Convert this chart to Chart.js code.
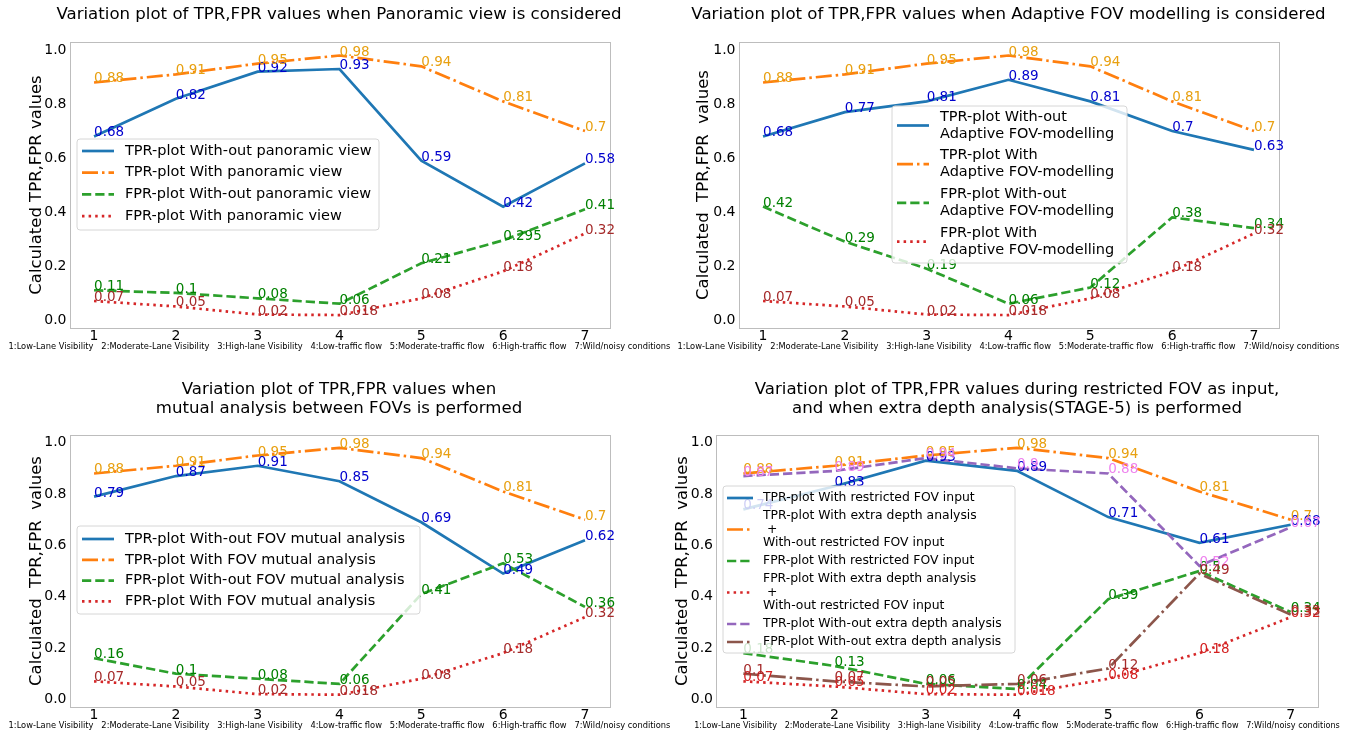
<!DOCTYPE html>
<html>
<head>
<meta charset="utf-8">
<script src="https://cdn.jsdelivr.net/npm/chart.js@4.4.0/dist/chart.umd.min.js"></script>
<style>
html, body { margin: 0; padding: 0; background: #fff; overflow: hidden; width: 1357px; height: 733px; }
canvas { position: absolute; }
</style>
</head>
<body>
<canvas id="c1" style="left:0px;top:0px" width="678" height="366"></canvas>
<canvas id="c2" style="left:660px;top:0px" width="697" height="366"></canvas>
<canvas id="c3" style="left:0px;top:366px" width="678" height="367"></canvas>
<canvas id="c4" style="left:660px;top:366px" width="714" height="367"></canvas>
<script>
var xValues = [1, 2, 3, 4, 5, 6, 7];
var yTicks = [0, 0.2, 0.4, 0.6, 0.8, 1.0];
var caption = '1:Low-Lane Visibility   2:Moderate-Lane Visibility   3:High-lane Visibility   4:Low-traffic flow   5:Moderate-traffic flow   6:High-traffic flow   7:Wild/noisy conditions';

// panel 1 - panoramic view
var panoTprWithout = [0.68, 0.82, 0.92, 0.93, 0.59, 0.42, 0.58];
var panoTprWith = [0.88, 0.91, 0.95, 0.98, 0.94, 0.81, 0.7];
var panoFprWithout = [0.11, 0.1, 0.08, 0.06, 0.21, 0.295, 0.41];
var panoFprWith = [0.07, 0.05, 0.02, 0.018, 0.08, 0.18, 0.32];

// panel 2 - adaptive FOV modelling
var adaTprWithout = [0.68, 0.77, 0.81, 0.89, 0.81, 0.7, 0.63];
var adaTprWith = [0.88, 0.91, 0.95, 0.98, 0.94, 0.81, 0.7];
var adaFprWithout = [0.42, 0.29, 0.19, 0.06, 0.12, 0.38, 0.34];
var adaFprWith = [0.07, 0.05, 0.02, 0.018, 0.08, 0.18, 0.32];

// panel 3 - mutual analysis between FOVs
var mutTprWithout = [0.79, 0.87, 0.91, 0.85, 0.69, 0.49, 0.62];
var mutTprWith = [0.88, 0.91, 0.95, 0.98, 0.94, 0.81, 0.7];
var mutFprWithout = [0.16, 0.1, 0.08, 0.06, 0.41, 0.53, 0.36];
var mutFprWith = [0.07, 0.05, 0.02, 0.018, 0.08, 0.18, 0.32];

// panel 4 - restricted FOV / extra depth analysis
var resTprRestricted = [0.74, 0.83, 0.93, 0.89, 0.71, 0.61, 0.68];
var resTprExtra = [0.88, 0.91, 0.95, 0.98, 0.94, 0.81, 0.7];
var resFprRestricted = [0.18, 0.13, 0.06, 0.04, 0.39, 0.5, 0.34];
var resFprExtra = [0.07, 0.05, 0.02, 0.018, 0.08, 0.18, 0.32];
var resTprNoExtra = [0.87, 0.89, 0.94, 0.9, 0.88, 0.52, 0.67];
var resFprNoExtra = [0.1, 0.07, 0.05, 0.06, 0.12, 0.49, 0.33];

var BLUE = '#1f77b4', ORANGE = '#ff7f0e', GREEN = '#2ca02c', RED = '#d62728', PURPLE = '#9467bd', BROWN = '#8c564b';
var SOLID = [], DASHDOT = [16, 4, 2.5, 4], DASHED = [9.25, 4], DOTTED = [2.5, 4.1];

Chart.defaults.font.family = '"DejaVu Sans"';
Chart.defaults.color = '#000';

function line(label, values, color, dash, labelColor, i) {
  return {
    label: label,
    data: values.map(function(v, j) { return { x: xValues[j], y: v }; }),
    borderColor: color,
    borderWidth: 2.7,
    borderDash: dash,
    pointRadius: 0,
    tension: 0,
    fill: false,
    yAxisID: 'y',
    order: -i,
    labelColor: labelColor
  };
}

var framePlugin = {
  id: 'frame',
  afterDatasetsDraw: function(chart) {
    var a = chart.chartArea, ctx = chart.ctx;
    ctx.save();
    ctx.strokeStyle = '#bdbdbd';
    ctx.lineWidth = 1;
    ctx.strokeRect(Math.round(a.left) + 0.5, Math.round(a.top) + 0.5, Math.round(a.right - a.left), Math.round(a.bottom - a.top));
    ctx.restore();
  }
};

var valueLabels = {
  id: 'valueLabels',
  afterDatasetsDraw: function(chart) {
    var ctx = chart.ctx;
    ctx.save();
    ctx.font = '13.5px "DejaVu Sans"';
    ctx.textAlign = 'left';
    ctx.textBaseline = 'alphabetic';
    chart.data.datasets.forEach(function(ds, i) {
      var meta = chart.getDatasetMeta(i);
      ctx.fillStyle = ds.labelColor;
      meta.data.forEach(function(pt, j) {
        ctx.fillText(String(ds.data[j].y), pt.x, pt.y);
      });
    });
    ctx.restore();
  }
};

// category caption under the x axis (not squeezed to the plot width)
var captionPlugin = {
  id: 'caption',
  afterDraw: function(chart, args, o) {
    var ctx = chart.ctx, a = chart.chartArea;
    ctx.save();
    ctx.font = o.size + 'px "DejaVu Sans"';
    ctx.fillStyle = '#000';
    ctx.textAlign = 'center';
    ctx.textBaseline = 'middle';
    ctx.fillText(caption, (a.left + a.right) / 2, chart.height - o.offset);
    ctx.restore();
  }
};

var boxLegend = {
  id: 'boxLegend',
  afterDraw: function(chart, args, o) {
    var ctx = chart.ctx, r = 3;
    ctx.save();
    ctx.beginPath();
    ctx.moveTo(o.x + r, o.y);
    ctx.arcTo(o.x + o.w, o.y, o.x + o.w, o.y + o.h, r);
    ctx.arcTo(o.x + o.w, o.y + o.h, o.x, o.y + o.h, r);
    ctx.arcTo(o.x, o.y + o.h, o.x, o.y, r);
    ctx.arcTo(o.x, o.y, o.x + o.w, o.y, r);
    ctx.closePath();
    ctx.fillStyle = 'rgba(255,255,255,0.8)';
    ctx.fill();
    ctx.strokeStyle = '#d6d6d6';
    ctx.lineWidth = 1;
    ctx.stroke();
    ctx.font = o.size + 'px "DejaVu Sans"';
    ctx.textBaseline = 'middle';
    ctx.textAlign = 'left';
    var y = o.firstY;
    chart.data.datasets.forEach(function(ds) {
      var lines = ds.label.split('\n');
      var mid = y + (lines.length - 1) * o.lineH / 2;
      ctx.setLineDash(ds.borderDash);
      ctx.strokeStyle = ds.borderColor;
      ctx.lineWidth = ds.borderWidth;
      ctx.beginPath();
      ctx.moveTo(o.sx0, mid);
      ctx.lineTo(o.sx1, mid);
      ctx.stroke();
      ctx.setLineDash([]);
      ctx.fillStyle = '#000';
      lines.forEach(function(t, k) { ctx.fillText(t, o.tx, y + k * o.lineH); });
      y += lines.length * o.lineH + o.gap;
    });
    ctx.restore();
  }
};

function makePanel(id, p) {
  return new Chart(document.getElementById(id), {
    type: 'line',
    data: { datasets: p.datasets },
    options: {
      responsive: false,
      animation: false,
      devicePixelRatio: 1,
      layout: { padding: 0 },
      plugins: {
        legend: { display: false },
        tooltip: { enabled: false },
        title: {
          display: true, text: p.title, color: '#000',
          font: { size: 16.6, weight: 'normal', lineHeight: p.titleLH },
          padding: { top: p.titlePadTop, bottom: p.titlePadBottom }
        },
        boxLegend: p.legend,
        caption: { size: p.capSize, offset: p.capOffset }
      },
      scales: {
        x: {
          type: 'linear', min: 0.7, max: 7.3,
          afterBuildTicks: function(s) { s.ticks = xValues.map(function(v) { return { value: v }; }); },
          afterFit: function(s) { s.height = p.xH; },
          grid: { display: false, drawTicks: false },
          border: { display: false },
          ticks: { font: { size: 14 }, padding: 0, maxRotation: 0, autoSkip: false, callback: function(v) { return String(v); } }
        },
        y: {
          type: 'linear', min: -0.03, max: 1.03,
          afterBuildTicks: function(s) { s.ticks = yTicks.map(function(v) { return { value: v }; }); },
          afterFit: function(s) { s.width = p.yW; },
          grid: { display: false, drawTicks: false },
          border: { display: false },
          ticks: { font: { size: 14 }, padding: 3, callback: function(v) { return v.toFixed(1); } },
          title: { display: true, text: p.yTitle, font: { size: 16.5 }, padding: { top: p.yPad, bottom: 0 } }
        },
        yR: {
          type: 'linear', position: 'right', display: true,
          afterFit: function(s) { s.width = p.rW; },
          grid: { display: false, drawTicks: false },
          border: { display: false },
          ticks: { display: false }
        }
      }
    },
    plugins: [framePlugin, valueLabels, captionPlugin, boxLegend]
  });
}

makePanel('c1', {
  title: 'Variation plot of TPR,FPR values when Panoramic view is considered',
  titleLH: 1.2, titlePadTop: 5, titlePadBottom: 17.1,
  yTitle: 'Calculated TPR,FPR values', yPad: 27.1,
  yW: 69.5, rW: 68.5, xH: 38, capOffset: 19, capSize: 8.3,
  legend: { x: 77, y: 139, w: 302, h: 91, firstY: 151, lineH: 17, gap: 4.7, sx0: 82, sx1: 114, tx: 125, size: 14.5 },
  datasets: [
    line('TPR-plot With-out panoramic view', panoTprWithout, BLUE, SOLID, '#0000cd', 0),
    line('TPR-plot With panoramic view', panoTprWith, ORANGE, DASHDOT, '#e8a010', 1),
    line('FPR-plot With-out panoramic view', panoFprWithout, GREEN, DASHED, '#008000', 2),
    line('FPR-plot With panoramic view', panoFprWith, RED, DOTTED, '#a52a2a', 3)
  ]
});

makePanel('c2', {
  title: 'Variation plot of TPR,FPR values when Adaptive FOV modelling is considered',
  titleLH: 1.2, titlePadTop: 5, titlePadBottom: 17.1,
  yTitle: 'Calculated  TPR,FPR  values', yPad: 34.1,
  yW: 78.5, rW: 78.5, xH: 38, capOffset: 19, capSize: 8.3,
  legend: { x: 232, y: 106, w: 235, h: 157, firstY: 117, lineH: 17, gap: 4.7, sx0: 237, sx1: 269, tx: 280, size: 14.5 },
  datasets: [
    line('TPR-plot With-out\nAdaptive FOV-modelling', adaTprWithout, BLUE, SOLID, '#0000cd', 0),
    line('TPR-plot With\nAdaptive FOV-modelling', adaTprWith, ORANGE, DASHDOT, '#e8a010', 1),
    line('FPR-plot With-out\nAdaptive FOV-modelling', adaFprWithout, GREEN, DASHED, '#008000', 2),
    line('FPR-plot With\nAdaptive FOV-modelling', adaFprWith, RED, DOTTED, '#a52a2a', 3)
  ]
});

makePanel('c3', {
  title: ['Variation plot of TPR,FPR values when', 'mutual analysis between FOVs is performed'],
  titleLH: 1.15, titlePadTop: 14.1, titlePadBottom: 16.7,
  yTitle: 'Calculated  TPR,FPR  values', yPad: 27.1,
  yW: 69.5, rW: 68.5, xH: 26, capOffset: 7, capSize: 8.3,
  legend: { x: 77, y: 160, w: 343, h: 88, firstY: 173, lineH: 17, gap: 3.8, sx0: 82, sx1: 114, tx: 125, size: 14.5 },
  datasets: [
    line('TPR-plot With-out FOV mutual analysis', mutTprWithout, BLUE, SOLID, '#0000cd', 0),
    line('TPR-plot With FOV mutual analysis', mutTprWith, ORANGE, DASHDOT, '#e8a010', 1),
    line('FPR-plot With-out FOV mutual analysis', mutFprWithout, GREEN, DASHED, '#008000', 2),
    line('FPR-plot With FOV mutual analysis', mutFprWith, RED, DOTTED, '#a52a2a', 3)
  ]
});

makePanel('c4', {
  title: ['Variation plot of TPR,FPR values during restricted FOV as input,', 'and when extra depth analysis(STAGE-5) is performed'],
  titleLH: 1.15, titlePadTop: 14.1, titlePadBottom: 16.7,
  yTitle: 'Calculated  TPR,FPR  values', yPad: 13.1,
  yW: 56, rW: 56, xH: 26, capOffset: 7, capSize: 8.1,
  legend: { x: 63, y: 120, w: 292, h: 167, firstY: 132, lineH: 13.5, gap: 4.5, sx0: 67, sx1: 93, tx: 103, size: 12.4 },
  datasets: [
    line('TPR-plot With restricted FOV input', resTprRestricted, BLUE, SOLID, '#0000cd', 0),
    line('TPR-plot With extra depth analysis\n +\nWith-out restricted FOV input', resTprExtra, ORANGE, DASHDOT, '#e8a010', 1),
    line('FPR-plot With restricted FOV input', resFprRestricted, GREEN, DASHED, '#008000', 2),
    line('FPR-plot With extra depth analysis\n +\nWith-out restricted FOV input', resFprExtra, RED, DOTTED, '#d42020', 3),
    line('TPR-plot With-out extra depth analysis', resTprNoExtra, PURPLE, DASHED, '#ee82ee', 4),
    line('FPR-plot With-out extra depth analysis', resFprNoExtra, BROWN, DASHDOT, '#a52a2a', 5)
  ]
});
</script>
</body>
</html>
